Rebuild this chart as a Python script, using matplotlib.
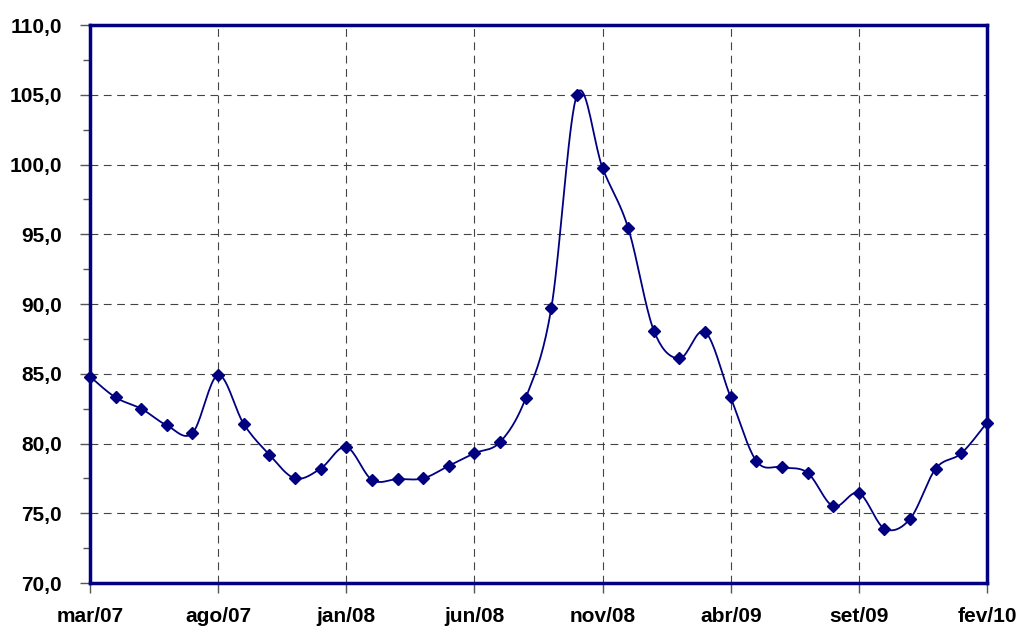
import matplotlib
matplotlib.use('Agg')
import matplotlib.pyplot as plt
import numpy as np
from matplotlib.ticker import MultipleLocator, FuncFormatter

# monthly index values, mar/07 .. fev/10
valores = [84.8, 83.3, 82.5, 81.3, 80.75, 84.9, 81.4, 79.2, 77.5, 78.2,
           79.75, 77.4, 77.45, 77.5, 78.4, 79.3, 80.1, 83.25, 89.7, 105.0,
           99.75, 95.45, 88.1, 86.1, 88.0, 83.3, 78.75, 78.3, 77.9, 75.5,
           76.45, 73.9, 74.6, 78.2, 79.3, 81.5]
rotulos = ['mar/07', 'ago/07', 'jan/08', 'jun/08', 'nov/08', 'abr/09', 'set/09', 'fev/10']

x = np.arange(len(valores), dtype=float)
y = np.array(valores)

# smooth line like excel (catmull-rom between points)
def suaviza(x, y, n=20):
    px = np.concatenate([[x[0]], x, [x[-1]]])
    py = np.concatenate([[y[0]], y, [y[-1]]])
    xs, ys = [], []
    t = np.linspace(0, 1, n)
    for i in range(1, len(px) - 2):
        for p, out in ((px, xs), (py, ys)):
            p0, p1, p2, p3 = p[i - 1], p[i], p[i + 1], p[i + 2]
            out.append(0.5 * ((2 * p1) + (-p0 + p2) * t
                              + (2 * p0 - 5 * p1 + 4 * p2 - p3) * t ** 2
                              + (-p0 + 3 * p1 - 3 * p2 + p3) * t ** 3))
    return np.concatenate(xs), np.concatenate(ys)

plt.rcParams['font.family'] = ['Liberation Sans', 'DejaVu Sans']
fig = plt.figure(figsize=(10.21, 6.3), dpi=100)
ax = fig.add_axes([0.0881, 0.0746, 0.8786, 0.8857])

sx, sy = suaviza(x, y)
ax.plot(sx, sy, color='#000080', lw=1.3, zorder=3)
ax.plot(x, y, 'D', color='#000080', ms=6.5, zorder=4, clip_on=False)

ax.set_xlim(0, 35)
ax.set_ylim(70, 110)
ax.set_xticks(np.arange(0, 36, 5))
ax.set_xticklabels(rotulos)
ax.yaxis.set_major_locator(MultipleLocator(5))
ax.yaxis.set_minor_locator(MultipleLocator(2.5))
ax.yaxis.set_major_formatter(FuncFormatter(lambda v, p: f'{v:.1f}'.replace('.', ',')))

ax.grid(True, which='major', color='#444444', ls=(0, (7, 5)), lw=0.8)
for s in ax.spines.values():
    s.set_color('#000080')
    s.set_linewidth(2.5)

ax.tick_params(axis='both', which='major', length=7, width=1, color='#555555',
               labelsize=15)
ax.tick_params(axis='y', which='major', pad=13)
ax.tick_params(axis='x', which='major', pad=10)
ax.tick_params(axis='y', which='minor', length=5, width=1, color='#555555')
for lab in ax.get_xticklabels() + ax.get_yticklabels():
    lab.set_fontweight('bold')

fig.savefig('out.png', dpi=100)
